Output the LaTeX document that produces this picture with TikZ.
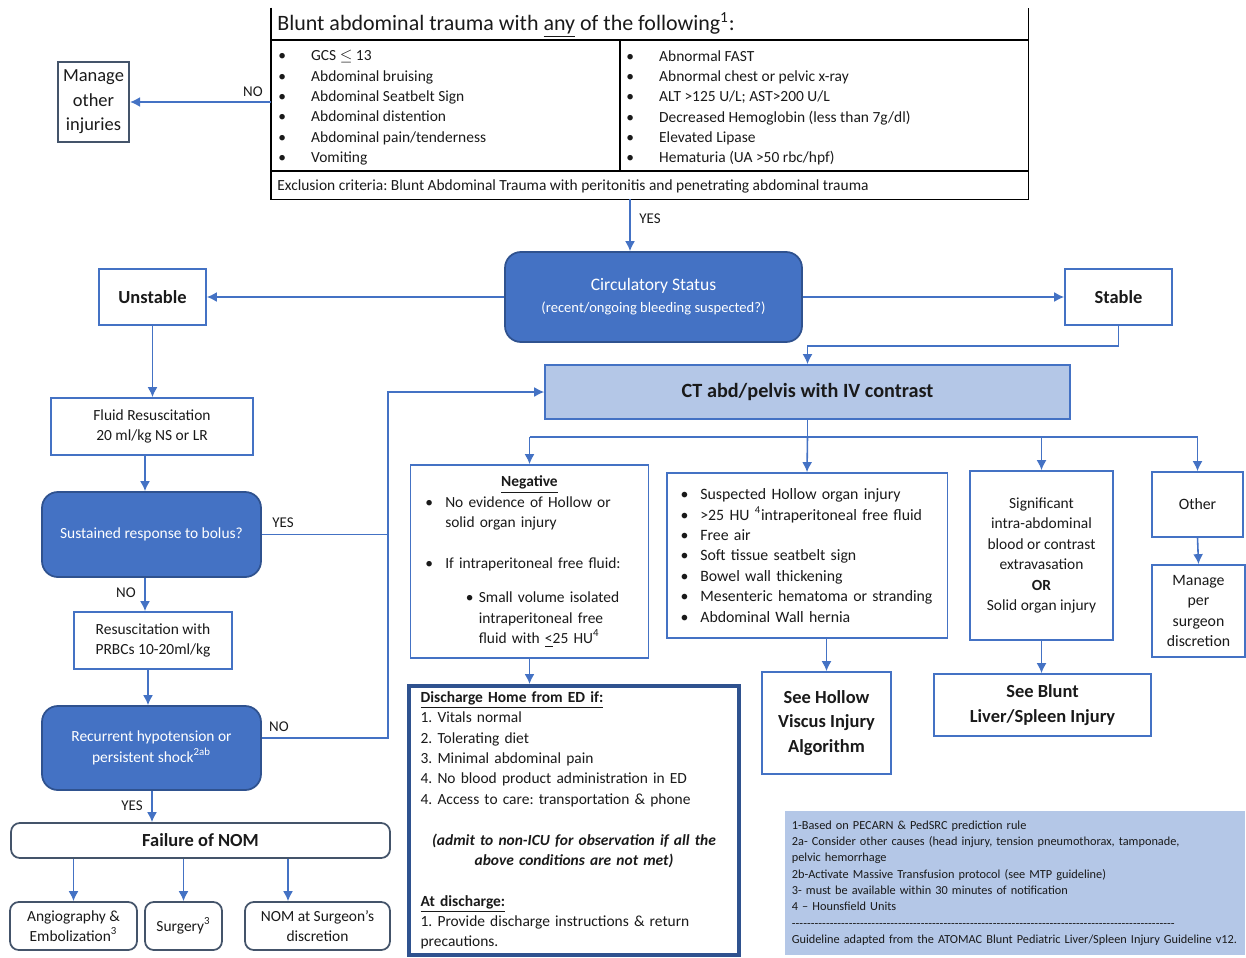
\documentclass[tikz,border=0pt]{standalone}
\usepackage{fontspec}
\setmainfont{Carlito}
\usepackage{tikz}
\usetikzlibrary{arrows.meta,positioning,calc}
\frenchspacing
\definecolor{ink}{HTML}{1A1A1A}
\definecolor{flow}{HTML}{4472C4}
\definecolor{flowdark}{HTML}{2F528F}
\definecolor{paleblue}{HTML}{B4C7E7}
\definecolor{slate}{HTML}{44546A}
\newcommand{\fs}[2]{\fontsize{#1}{#2}\selectfont}
\newcommand{\bul}[1]{\makebox[#1][l]{\textbullet}}
\tikzset{
  >={Latex[length=2mm,width=2mm]},
  every node/.style={text=ink,inner sep=0pt,font=\fs{8.8}{11.6}},
  box/.style={draw=flow,line width=1pt,fill=white,align=center,inner sep=3pt},
  darkbox/.style={box,draw=slate},
  decision/.style={draw=flowdark,line width=1pt,fill=flow,rounded corners=9pt,align=center,inner sep=3pt,text=white},
  outcome/.style={darkbox,rounded corners=5pt},
  ctbox/.style={box,fill=paleblue},
  notes/.style={fill=paleblue,align=left,font=\fs{7}{9.3}},
  frame/.style={draw=black,line width=0.9pt},
  arrow/.style={->,draw=flow,line width=0.9pt},
  link/.style={draw=flow,line width=0.9pt},
  lbl/.style={font=\fs{8.5}{10}}
}

\begin{document}
\begin{tikzpicture}[x=0.02cm,y=-0.02cm]
  \useasboundingbox (0,0) rectangle (1246,957);

  \node[minimum width=151.4mm,minimum height=38.2mm] (crit) at (649.5,103.5) {};
  \node[anchor=west,font=\fs{12.5}{15}] (crittitle) at (277,25) {Blunt abdominal trauma with \underline{any} of the following\textsuperscript{1}:};
  \node[anchor=north west,align=left] (critl) at (278,50) {\bul{18.7pt}GCS $\leq$ 13\\\bul{18.7pt}Abdominal bruising\\\bul{18.7pt}Abdominal Seatbelt Sign\\\bul{18.7pt}Abdominal distention\\\bul{18.7pt}Abdominal pain/tenderness\\\bul{18.7pt}Vomiting};
  \node[anchor=north west,align=left] (critr) at (626,50) {\bul{18.7pt}Abnormal FAST\\\bul{18.7pt}Abnormal chest or pelvic x-ray\\\bul{18.7pt}ALT >125 U/L; AST>200 U/L\\\bul{18.7pt}Decreased Hemoglobin (less than 7g/dl)\\\bul{18.7pt}Elevated Lipase\\\bul{18.7pt}Hematuria (UA >50 rbc/hpf)};
  \node[anchor=west] (critx) at (277,186) {Exclusion criteria: Blunt Abdominal Trauma with peritonitis and penetrating abdominal trauma};
  \draw[frame] (crit.north west) |- (crit.south east) -- (crit.north east);
  \draw[frame] (crit.west |- 0,40) -- (crit.east |- 0,40);
  \draw[frame] (crit.west |- 0,171) -- (crit.east |- 0,171);
  \draw[frame] (620,40) -- (620,171);

  \node[darkbox,minimum width=14.2mm,minimum height=16mm,font=\fs{10.5}{14}] (other) at (93.5,102) {Manage\\other\\injuries};
  \node[decision,minimum width=59.4mm,minimum height=18mm,font=\fs{10}{12.5}] (circ) at (653.5,297) {Circulatory Status\\{\fs{8.3}{12.5}(recent/ongoing bleeding suspected?)}};
  \node[box,minimum width=21.4mm,minimum height=11.2mm,font=\fs{10.5}{13}\bfseries] (unstable) at (152.5,297) {Unstable};
  \node[box,minimum width=21.4mm,minimum height=11.2mm,font=\fs{10.5}{13}\bfseries] (stable) at (1118.5,297) {Stable};
  \node[ctbox,minimum width=105mm,minimum height=10.8mm,font=\fs{11.5}{14}\bfseries] (ct) at (807.5,392) {CT abd/pelvis with IV contrast};

  \node[box,minimum width=40.4mm,minimum height=11.4mm] (fluid) at (152,426.5) {Fluid Resuscitation\\20 ml/kg NS or LR};
  \node[decision,minimum width=43.8mm,minimum height=17mm] (sustained) at (151.5,534.5) {Sustained response to bolus?};
  \node[box,minimum width=31.6mm,minimum height=11.4mm] (prbc) at (153,640.5) {Resuscitation with\\PRBCs 10-20ml/kg};
  \node[decision,minimum width=43.8mm,minimum height=16.8mm] (recur) at (151.5,748) {Recurrent hypotension or\\persistent shock\textsuperscript{2ab}};
  \node[outcome,minimum width=75.8mm,minimum height=7mm,font=\fs{10.5}{13}\bfseries] (fail) at (200.5,840.5) {Failure of NOM};
  \node[outcome,minimum width=25.4mm,minimum height=9.6mm] (angio) at (73.5,926) {Angiography \&\\Embolization\textsuperscript{3}};
  \node[outcome,minimum width=15.4mm,minimum height=9.6mm] (surgery) at (183.5,926) {Surgery\textsuperscript{3}};
  \node[outcome,minimum width=29mm,minimum height=9.6mm] (nomsurg) at (317.5,926) {NOM at Surgeon's\\discretion};

  \node[box,align=left,text width=118.5pt,inner xsep=8.5pt,minimum height=38.6mm] (neg) at (529.5,561.5) {\makebox[\linewidth]{\bfseries\underline{Negative}}\\
    \bul{11.3pt}No evidence of Hollow or\\
    \hspace*{11.3pt}solid organ injury\\[11.6pt]
    \bul{11.3pt}If intraperitoneal free fluid:\\[8pt]
    \hspace*{23pt}\bul{7.4pt}Small volume isolated\\
    \hspace*{30.4pt}intraperitoneal free\\
    \hspace*{30.4pt}fluid with \underline{<}25 HU\textsuperscript{4}};
  \node[box,draw=flowdark,line width=2.3pt,align=left,text width=174.6pt,inner xsep=6.8pt,minimum height=53.8mm] (disch) at (574,820.5) {{\bfseries\underline{Discharge Home from ED if:}}\\
    1. Vitals normal\\
    2. Tolerating diet\\
    3. Minimal abdominal pain\\
    4. No blood product administration in ED\\
    4. Access to care: transportation \& phone\\[11.6pt]
    \makebox[\linewidth]{\bfseries\itshape (admit to non-ICU for observation if all the}\\
    \makebox[\linewidth]{\bfseries\itshape above conditions are not met)}\\[11.6pt]
    {\bfseries\underline{At discharge:}}\\
    1. Provide discharge instructions \& return\\
    precautions.};
  \node[box,align=left,text width=144pt,inner xsep=7.9pt,minimum height=33mm,font=\fs{9}{11.6}] (hollow) at (807,555.5) {\bul{11.3pt}Suspected Hollow organ injury\\
    \bul{11.3pt}>25 HU \textsuperscript{4}intraperitoneal free fluid\\
    \bul{11.3pt}Free air\\
    \bul{11.3pt}Soft tissue seatbelt sign\\
    \bul{11.3pt}Bowel wall thickening\\
    \bul{11.3pt}Mesenteric hematoma or stranding\\
    \bul{11.3pt}Abdominal Wall hernia};
  \node[box,minimum width=25.8mm,minimum height=20.4mm,font=\fs{10.5}{14}\bfseries] (seehollow) at (826.5,723) {See Hollow\\Viscus Injury\\Algorithm};
  \node[box,minimum width=28.6mm,minimum height=33.8mm] (signif) at (1041.5,555.5) {Significant\\intra-abdominal\\blood or contrast\\extravasation\\\textbf{OR}\\Solid organ injury};
  \node[box,minimum width=43.4mm,minimum height=12.4mm,font=\fs{10.5}{14}\bfseries] (seeblunt) at (1042.5,705) {See Blunt\\Liver/Spleen Injury};
  \node[box,minimum width=18.2mm,minimum height=13mm,font=\fs{9}{11.6}] (othr) at (1197.5,504.5) {Other};
  \node[box,minimum width=18.6mm,minimum height=18.4mm,font=\fs{9}{11.6}] (persurg) at (1198.5,611) {Manage\\per\\surgeon\\discretion};

  \node[notes,text width=254pt,inner xsep=4pt,minimum height=28.8mm] (notes) at (1015,883) {1-Based on PECARN \& PedSRC prediction rule\\
    2a- Consider other causes (head injury, tension pneumothorax, tamponade,\\
    pelvic hemorrhage\\
    2b-Activate Massive Transfusion protocol (see MTP guideline)\\
    3- must be available within 30 minutes of notification\\
    4 \textendash{} Hounsfield Units\\
    \makebox[218pt][l]{\xleaders\hbox{-}\hfill}\\
    Guideline adapted from the ATOMAC Blunt Pediatric Liver/Spleen Injury Guideline v12.};

  \draw[arrow] (crit.west |- other.east) -- (other.east);
  \node[lbl] (nocrit) at (253,92) {NO};
  \draw[arrow] (crit.south -| 630,0) -- (circ.north -| 630,0);
  \node[lbl] (yescrit) at (650,219) {YES};
  \draw[arrow] (circ.west) -- (unstable.east);
  \draw[arrow] (circ.east) -- (stable.west);
  \draw[arrow] (stable.south) -- ++(0,20) -| (ct.north);
  \draw[arrow] (unstable.south) -- (unstable.south |- fluid.north);
  \draw[arrow] (fluid.south -| 145,0) -- (sustained.north -| 145,0);
  \draw[arrow] (sustained.south -| 145,0) -- (prbc.north -| 145,0);
  \node[lbl] (nosus) at (126,593) {NO};
  \draw[arrow] (prbc.south -| 148,0) -- (recur.north -| 148,0);
  \draw[arrow] (recur.south -| 152,0) -- (fail.north -| 152,0);
  \node[lbl] (yesrec) at (132,806) {YES};
  \coordinate (merge) at (388,392);
  \draw[link] (sustained.east) -| (merge);
  \node[lbl] (yessus) at (283,523) {YES};
  \draw[arrow] (recur.east |- 0,738) -| (merge) -- (ct.west);
  \node[lbl] (norec) at (279,727) {NO};
  \draw[arrow] (fail.south -| angio.north) -- (angio.north);
  \draw[arrow] (fail.south -| surgery.north) -- (surgery.north);
  \draw[arrow] (fail.south -| 288,0) -- (nomsurg.north -| 288,0);

  \coordinate (split) at (807.5,437);
  \draw[link] (ct.south) -- (split);
  \draw[link] (split -| neg.north) -- (split -| othr.north);
  \draw[arrow] (split -| neg.north) -- (neg.north);
  \draw[arrow] (split) -- (hollow.north);
  \draw[arrow] (split -| signif.north) -- (signif.north);
  \draw[arrow] (split -| othr.north) -- (othr.north);
  \draw[arrow] (neg.south) -- (neg.south |- disch.north);
  \draw[arrow] (hollow.south -| seehollow.north) -- (seehollow.north);
  \draw[arrow] (signif.south) -- (signif.south |- seeblunt.north);
  \draw[arrow] (othr.south) -- (persurg.north);
\end{tikzpicture}
\end{document}
